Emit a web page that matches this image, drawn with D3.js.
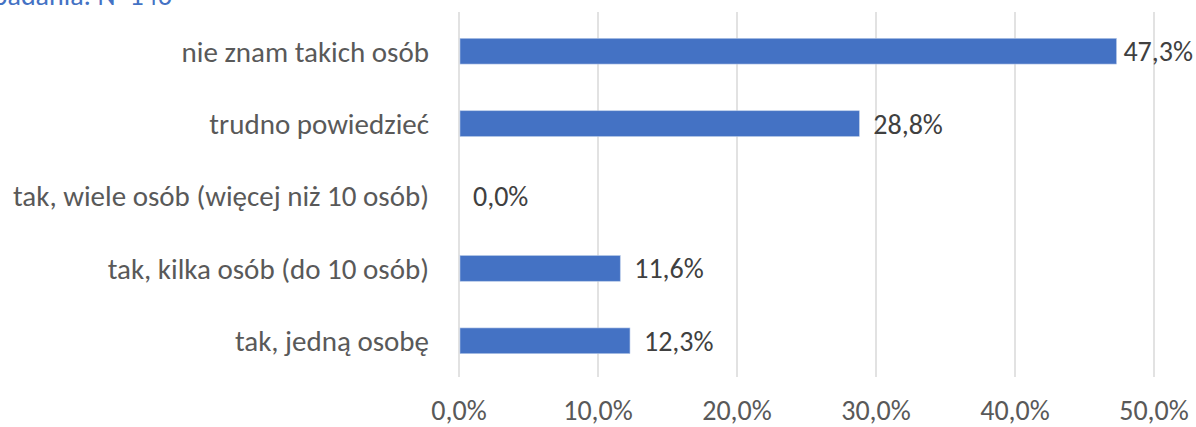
<!DOCTYPE html>
<html>
<head>
<meta charset="utf-8">
<script src="https://d3js.org/d3.v7.min.js"></script>
<style>
body { margin: 0; background: #fff; }
svg text { font-family: Carlito, Calibri, "Liberation Sans Narrow", "Open Sans", sans-serif; }
</style>
</head>
<body>
<div id="chart"></div>
<script>
// data
var categories = ["nie znam takich osób", "trudno powiedzieć", "tak, wiele osób (więcej niż 10 osób)", "tak, kilka osób (do 10 osób)", "tak, jedną osobę"];
var values = [47.3, 28.8, 0.0, 11.6, 12.3];
var ticks = [0, 10, 20, 30, 40, 50];
var title = "badania: N=146";

var W = 1196, H = 427;
var margin = {top: 15, right: 42, bottom: 50, left: 459};

var svg = d3.select("#chart").append("svg")
  .attr("width", W)
  .attr("height", H);

var x = d3.scaleLinear()
  .domain([0, 50])
  .range([margin.left, margin.left + 695]);

var y = d3.scaleBand()
  .domain(categories)
  .range([margin.top, H - margin.bottom])
  .paddingInner(0.645)
  .paddingOuter(0.3225);

var fmt = function(d) { return d.toFixed(1).replace(".", ",") + "%"; };

// gridlines
svg.append("g")
  .selectAll("line")
  .data(ticks)
  .join("line")
    .attr("x1", d => x(d))
    .attr("x2", d => x(d))
    .attr("y1", 12)
    .attr("y2", H - margin.bottom)
    .attr("stroke", "#d9d9d9")
    .attr("stroke-width", 1.5);

// x tick labels
svg.append("g")
  .selectAll("text")
  .data(ticks)
  .join("text")
    .attr("x", d => x(d))
    .attr("y", 420)
    .attr("text-anchor", "middle")
    .attr("font-size", 28)
    .attr("fill", "#595959")
    .text(d => fmt(d));

// bars
svg.append("g")
  .selectAll("rect")
  .data(values)
  .join("rect")
    .attr("x", x(0) + 1)
    .attr("y", (d, i) => y(categories[i]))
    .attr("width", d => Math.max(0, x(d) - x(0) - 1))
    .attr("height", y.bandwidth())
    .attr("fill", "#4472c4")
    .attr("stroke", d => d > 0 ? "#b4c7e7" : "none")
    .attr("stroke-width", 0.6);

// value labels (pushed back inside the frame when they would overflow)
svg.append("g")
  .selectAll("text")
  .data(values)
  .join("text")
    .attr("y", (d, i) => y(categories[i]) + y.bandwidth() / 2)
    .attr("dy", "0.36em")
    .attr("font-size", 28)
    .attr("fill", "#404040")
    .text(d => fmt(d))
    .attr("x", function(d) {
      var w = this.getComputedTextLength();
      return Math.min(x(d) + 14, W - 3 - w);
    });

// category labels
svg.append("g")
  .selectAll("text")
  .data(categories)
  .join("text")
    .attr("x", margin.left - 30)
    .attr("y", d => y(d) + y.bandwidth() / 2)
    .attr("dy", "0.36em")
    .attr("text-anchor", "end")
    .attr("font-size", 29)
    .attr("fill", "#595959")
    .text(d => d);

// clipped title at the top
svg.append("text")
  .attr("x", 172)
  .attr("y", 5)
  .attr("text-anchor", "end")
  .attr("font-size", 28)
  .attr("fill", "#4472c4")
  .text(title);
</script>
</body>
</html>
